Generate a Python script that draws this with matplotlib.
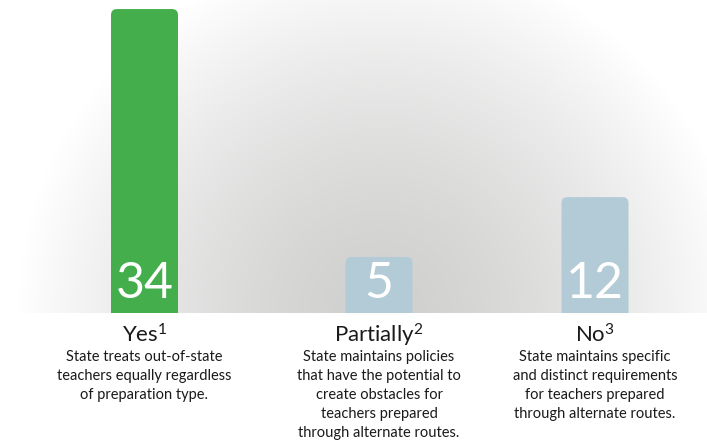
import numpy as np
import matplotlib
matplotlib.use("Agg")
import matplotlib.pyplot as plt
from matplotlib.patches import FancyBboxPatch

# ---- data ----
categories = ["Yes", "Partially", "No"]
footnotes = ["1", "2", "3"]
values = [34, 5, 12]
descriptions = [
    "State treats out-of-state\nteachers equally regardless\nof preparation type.",
    "State maintains policies\nthat have the potential to\ncreate obstacles for\nteachers prepared\nthrough alternate routes.",
    "State maintains specific\nand distinct requirements\nfor teachers prepared\nthrough alternate routes.",
]

# ---- style / layout ----
colors = ["#43ae4b", "#b2cbd6", "#b2cbd6"]
W, H = 707, 444
base_px = 313          # baseline (pixels from top)
centers_px = [144.5, 379, 595]
bar_w = 67
floor = -1.55          # axis floor below zero (room for value labels)
scale = 8.55           # pixels per unit
ytop = floor + base_px / scale

fam = ["Lato", "DejaVu Sans"]
plt.rcParams["font.family"] = fam
plt.rcParams["mathtext.fontset"] = "custom"
plt.rcParams["mathtext.rm"] = "Lato"
plt.rcParams["mathtext.it"] = "Lato:italic"
plt.rcParams["mathtext.bf"] = "Lato:bold"

fig = plt.figure(figsize=(W / 100, H / 100), dpi=100)
fig.patch.set_facecolor("white")
ax = fig.add_axes([0, (H - base_px) / H, 1, base_px / H])
ax.set_xlim(0, W)
ax.set_ylim(floor, ytop)
ax.axis("off")

# radial gray background
yy, xx = np.mgrid[0:base_px, 0:W]
cx, cy, R = 380, base_px, 362
t = np.clip(np.hypot(xx - cx, yy - cy) / R, 0, 1)
val = 0.815 + 0.185 * t ** 1.5
img = np.dstack([val, val, val * 0.995 + 0.005 * t])
img = np.clip(img, 0, 1)
ax.imshow(img, extent=[0, W, floor, ytop], origin="upper", aspect="auto",
          zorder=0, interpolation="bilinear")

# bars
bars = ax.bar(centers_px, values, width=bar_w, bottom=0, color=colors, zorder=1)
for b, c in zip(bars, colors):
    x0 = b.get_x()
    w = b.get_width()
    top = b.get_y() + b.get_height()
    b.remove()
    bottom = floor - 3
    p = FancyBboxPatch((x0, bottom), w, top - bottom,
                       boxstyle="round,pad=0,rounding_size=6",
                       mutation_aspect=1 / scale,
                       facecolor=c, edgecolor="none", zorder=2)
    ax.add_patch(p)

def fy(px):
    return 1 - px / H

# value labels
for cxp, v in zip(centers_px, values):
    fig.text(cxp / W, fy(298), str(v), ha="center", va="baseline",
             color="white", fontsize=36, fontweight=400, family=fam)

# category headings and descriptions
for cxp, cat, fn, desc in zip(centers_px, categories, footnotes, descriptions):
    fig.text(cxp / W, fy(342), cat + r"$^{\mathregular{" + fn + "}}$",
             ha="center", va="baseline", color="#1a1a1a", fontsize=16, family=fam)
    for i, line in enumerate(desc.split("\n")):
        fig.text(cxp / W, fy(361 + 19 * i), line, ha="center", va="baseline",
                 color="#1a1a1a", fontsize=10.5, family=fam)

fig.savefig("out.png", dpi=100, facecolor="white")
